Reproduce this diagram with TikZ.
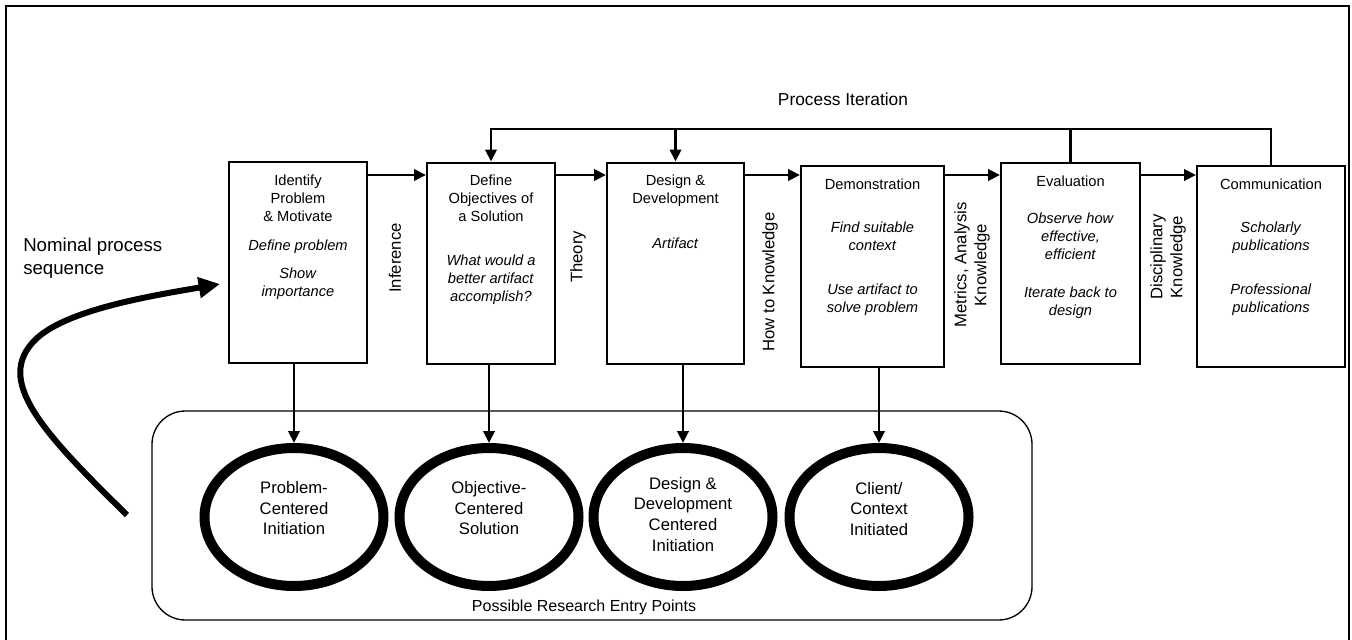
\documentclass[tikz,border=0pt]{standalone}
\usepackage{fontspec}
\setmainfont{Liberation Sans}
\usetikzlibrary{arrows.meta,shapes.geometric,positioning}

\begin{document}
\begin{tikzpicture}[x=0.75pt,y=-0.75pt,
	act node/.style={rectangle,draw,line width=1.5pt,minimum height=150.75pt,inner sep=0pt},
	act text/.style={anchor=north,align=center,inner sep=0pt,font=\fontsize{11}{13.5}\selectfont},
	entry node/.style={ellipse,draw,line width=7.5pt,minimum width=134.25pt,minimum height=103.5pt,inner sep=0pt},
	entry text/.style={align=center,inner sep=0pt,font=\fontsize{12.5}{15.5}\selectfont},
	know/.style={rotate=90,align=center,inner sep=0pt,font=\fontsize{12.5}{15}\selectfont},
	flow/.style={line width=2.2pt,-{Triangle[length=9pt,width=8.5pt]}}]
	\useasboundingbox (0,0) rectangle (1352,639);
	\draw[line width=1.5pt] (6,645) -- (6,6) -- (1349,6) -- (1349,645);

	\node[act node,minimum width=103.5pt] (b1) at (298,262.5) {};
	\node[act node,minimum width=96pt] (b2) at (491,263) {};
	\node[act node,minimum width=102.75pt] (b3) at (675.5,263) {};
	\node[act node,minimum width=107.25pt] (b4) at (872.5,266.5) {};
	\node[act node,minimum width=104.25pt] (b5) at (1070.5,263.5) {};
	\node[act node,minimum width=111pt] (b6) at (1271,266.5) {};

	\node[act text] (t1) at ([yshift=-10pt]b1.north) {Identify\\Problem\\\& Motivate\\[8.25pt]\textit{Define problem}\\[7.5pt]\textit{Show}\\\textit{importance}};
	\node[act text] (t2) at ([yshift=-10pt]b2.north) {Define\\Objectives of\\a Solution\\[19.5pt]\textit{What would a}\\\textit{better artifact}\\\textit{accomplish?}};
	\node[act text] (t3) at ([yshift=-10pt]b3.north) {Design \&\\Development\\[20pt]\textit{Artifact}};
	\node[act text] (t4) at ([yshift=-10pt]b4.north) {Demonstration\\[18.75pt]\textit{Find suitable}\\\textit{context}\\[19.5pt]\textit{Use artifact to}\\\textit{solve problem}};
	\node[act text] (t5) at ([yshift=-10pt]b5.north) {Evaluation\\[14.25pt]\textit{Observe how}\\\textit{effective,}\\\textit{efficient}\\[15pt]\textit{Iterate back to}\\\textit{design}};
	\node[act text] (t6) at ([yshift=-10pt]b6.north) {Communication\\[18.75pt]\textit{Scholarly}\\\textit{publications}\\[19.5pt]\textit{Professional}\\\textit{publications}};

	\node[know] (k1) at (395,258) {Inference};
	\node[know] (k2) at (578,257) {Theory};
	\node[know] (k3) at (770,282) {How to Knowledge};
	\node[know] (k4) at (972,265) {Metrics, Analysis\\Knowledge};
	\node[know] (k5) at (1168,257) {Disciplinary\\Knowledge};

	\coordinate (lv) at (0,175);
	\foreach \a/\b in {b1/b2,b2/b3,b3/b4,b4/b5,b5/b6}
		\draw[flow] (\a.east |- lv) -- (\b.west |- lv);

	\coordinate (it) at (0,129);
	\node[font=\fontsize{13}{15}\selectfont] (pi) at (843,99) {Process Iteration};
	\draw[flow] (b6.north) -- (b6.north |- it) -- (b2.north |- it) -- (b2.north);
	\draw[flow] (b3.north |- it) -- (b3.north);
	\draw[line width=2.2pt] (b5.north) -- (b5.north |- it);

	\node[draw,rounded corners=25pt,line width=1pt,minimum width=660pt,minimum height=156.75pt] (area) at (592,515.5) {};
	\node[font=\fontsize{12}{14}\selectfont] (ap) at (584,607) {Possible Research Entry Points};
	\node[entry node] (e1) at (294,517) {};
	\node[entry node] (e2) at (489,517) {};
	\node[entry node] (e3) at (683,517) {};
	\node[entry node] (e4) at (879,517) {};
	\node[entry text] (l1) at ([yshift=6.5pt]e1.center) {Problem-\\Centered\\Initiation};
	\node[entry text] (l2) at ([yshift=6.5pt]e2.center) {Objective-\\Centered\\Solution};
	\node[entry text] (l3) at ([yshift=2pt]e3.center) {Design \&\\Development\\Centered\\Initiation};
	\node[entry text] (l4) at ([yshift=6pt]e4.center) {Client/\\Context\\Initiated};
	\foreach \i in {1,...,4}
		\draw[flow] (b\i.south -| e\i.north) -- (e\i.north);

	\node[anchor=north west,align=left,inner sep=0pt,font=\fontsize{14}{17}\selectfont] (nps) at (23,238) {Nominal process\\sequence};
	\coordinate (ns) at (127,515);
	\coordinate (ne) at (220,284);
	\draw[line width=4.5pt,-{Triangle[length=16pt,width=15pt]}] (ns) .. controls (40,430) and (-5,380) .. (35,340) .. controls (65,310) and (150,296) .. (ne);
\end{tikzpicture}
\end{document}
